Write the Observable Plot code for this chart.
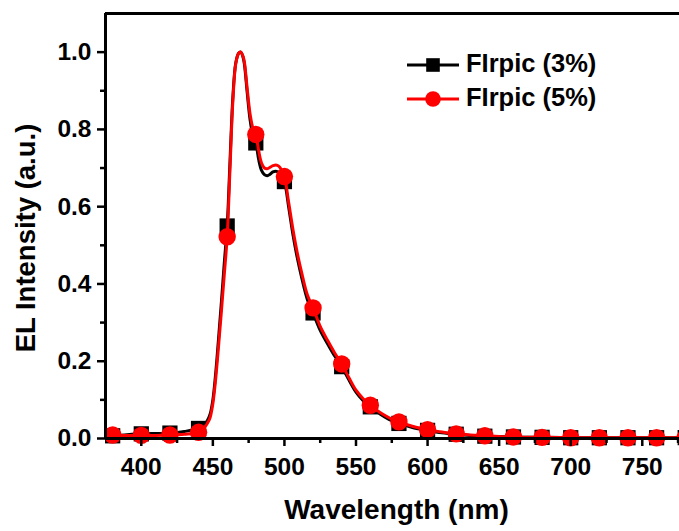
<!DOCTYPE html>
<html><head><meta charset="utf-8">
<script src="https://cdn.jsdelivr.net/npm/d3@7"></script>
<script src="https://cdn.jsdelivr.net/npm/@observablehq/plot@0.6"></script>
<style>body{margin:0;background:#fff;} #chart{position:relative;width:679px;height:531px;overflow:hidden;}</style>
</head><body><div id="chart"></div>
<script>
const seriesNames = ["FIrpic (3%)", "FIrpic (5%)"];
const seriesColors = ["#000000", "#ff0000"];
const lineWavelength = [375,380,390,400,410,420,430,440,444,446,448,450,452,454,456,458,460,462,464,466,468,469.5,471,472,474,476,478,480,482,484,486,488,490,492,494,496,498,500,503,506,509,512,516,520,525,530,535,540,545,550,555,560,565,570,575,580,590,600,610,620,630,640,650,660,670,680,700,720,740,760,780,790];
const line3 = [0.007,0.007,0.010,0.012,0.013,0.014,0.018,0.026,0.035,0.045,0.062,0.100,0.170,0.260,0.355,0.455,0.550,0.720,0.885,0.972,0.997,1.000,0.988,0.970,0.895,0.825,0.783,0.765,0.722,0.694,0.683,0.680,0.684,0.690,0.692,0.689,0.680,0.665,0.598,0.527,0.467,0.417,0.360,0.325,0.280,0.246,0.214,0.186,0.152,0.120,0.098,0.082,0.068,0.056,0.046,0.039,0.028,0.021,0.015,0.011,0.008,0.006,0.005,0.004,0.003,0.003,0.002,0.002,0.002,0.002,0.002,0.002];
const line5 = [0.009,0.009,0.008,0.008,0.008,0.009,0.011,0.016,0.028,0.038,0.053,0.090,0.155,0.240,0.330,0.425,0.522,0.700,0.875,0.970,0.997,1.000,0.990,0.975,0.905,0.840,0.803,0.787,0.745,0.713,0.700,0.698,0.702,0.706,0.708,0.705,0.695,0.678,0.610,0.540,0.480,0.430,0.372,0.338,0.290,0.255,0.222,0.193,0.158,0.125,0.103,0.086,0.072,0.060,0.050,0.043,0.031,0.023,0.017,0.012,0.009,0.007,0.005,0.004,0.003,0.003,0.002,0.002,0.002,0.002,0.002,0.002];
const markerWavelength = [380,400,420,440,460,480,500,520,540,560,580,600,620,640,660,680,700,720,740,760,780];
const marker3 = [0.007,0.012,0.014,0.026,0.550,0.765,0.665,0.325,0.186,0.082,0.039,0.021,0.011,0.006,0.004,0.003,0.002,0.002,0.002,0.002,0.002];
const marker5 = [0.009,0.008,0.009,0.016,0.522,0.787,0.678,0.338,0.193,0.086,0.043,0.023,0.012,0.007,0.004,0.003,0.002,0.002,0.002,0.002,0.002];
const xMajorTicks = [400,450,500,550,600,650,700,750];
const xMinorTicks = [425,475,525,575,625,675,725,775];
const yMajorTicks = [0,0.2,0.4,0.6,0.8,1.0];
const yMinorTicks = [0.1,0.3,0.5,0.7,0.9];
const xTitle = "Wavelength (nm)";
const yTitle = "EL Intensity (a.u.)";

const lineData = [line3, line5].map(vals => lineWavelength.map((w, i) => ({wavelength: w, intensity: vals[i]})));
const markerData = [marker3, marker5].map(vals => markerWavelength.map((w, i) => ({wavelength: w, intensity: vals[i]})));

const font = "'Liberation Sans', Arial, sans-serif";
const svg = Plot.plot({
  width: 679, height: 531,
  marginLeft: 105, marginRight: 0, marginTop: 13, marginBottom: 93,
  x: {domain: [375, 776]},
  y: {domain: [0, 1.1]},
  style: {fontFamily: font, fontWeight: "bold", fontSize: "25px", background: "white", color: "black"},
  marks: [
    Plot.line(lineData[0], {x: "wavelength", y: "intensity", stroke: seriesColors[0], strokeWidth: 3, curve: "catmull-rom"}),
    Plot.dot(markerData[0], {x: "wavelength", y: "intensity", symbol: "square", r: 8.6, fill: seriesColors[0], stroke: "none"}),
    Plot.line(lineData[1], {x: "wavelength", y: "intensity", stroke: seriesColors[1], strokeWidth: 3, curve: "catmull-rom"}),
    Plot.dot(markerData[1], {x: "wavelength", y: "intensity", symbol: "circle", r: 8.7, fill: seriesColors[1], stroke: "none"}),
    Plot.ruleX([375], {strokeWidth: 3}),
    Plot.ruleY([0], {strokeWidth: 3}),
    Plot.ruleY([1.1], {strokeWidth: 3}),
    Plot.axisX({ticks: xMajorTicks, tickSize: 8, tickPadding: 11, fontSize: 24.5, fontWeight: "bold", strokeWidth: 2.5, label: null}),
    Plot.axisX({ticks: xMinorTicks, tickSize: 5, tickFormat: () => "", strokeWidth: 2.5, label: null}),
    Plot.axisY({ticks: yMajorTicks, tickSize: 8, tickPadding: 6, tickFormat: d => d.toFixed(1), fontSize: 24.5, fontWeight: "bold", strokeWidth: 2.5, label: null}),
    Plot.axisY({ticks: yMinorTicks, tickSize: 5, tickFormat: () => "", strokeWidth: 2.5, label: null}),
    Plot.text([xTitle], {text: d => d, frameAnchor: "bottom", textAnchor: "middle", dx: 4, dy: 80, lineAnchor: "bottom", fontSize: 28, fontWeight: "bold"}),
    Plot.text([yTitle], {text: d => d, frameAnchor: "left", textAnchor: "middle", rotate: -90, dx: -71, dy: 12, lineAnchor: "bottom", fontSize: 27.5, fontWeight: "bold"})
  ]
});
document.getElementById("chart").appendChild(svg);

// Legend
const lg = d3.select(svg).append("g").attr("class", "legend");
const rows = [{y: 65, base: 72}, {y: 99, base: 106}];
seriesNames.forEach((name, i) => {
  const g = lg.append("g");
  g.append("line").attr("x1", 407).attr("x2", 459).attr("y1", rows[i].y).attr("y2", rows[i].y)
    .attr("stroke", seriesColors[i]).attr("stroke-width", 3);
  if (i === 0) {
    g.append("rect").attr("x", 433 - 6.8).attr("y", rows[i].y - 6.8).attr("width", 13.6).attr("height", 13.6).attr("fill", seriesColors[i]);
  } else {
    g.append("circle").attr("cx", 433).attr("cy", rows[i].y).attr("r", 7.8).attr("fill", seriesColors[i]);
  }
  g.append("text").attr("x", 466).attr("y", rows[i].base)
    .style("font-size", "25.5px").style("font-weight", "bold").style("font-family", font)
    .attr("text-anchor", "start").attr("fill", "black").text(name);
});
</script>
</body></html>
